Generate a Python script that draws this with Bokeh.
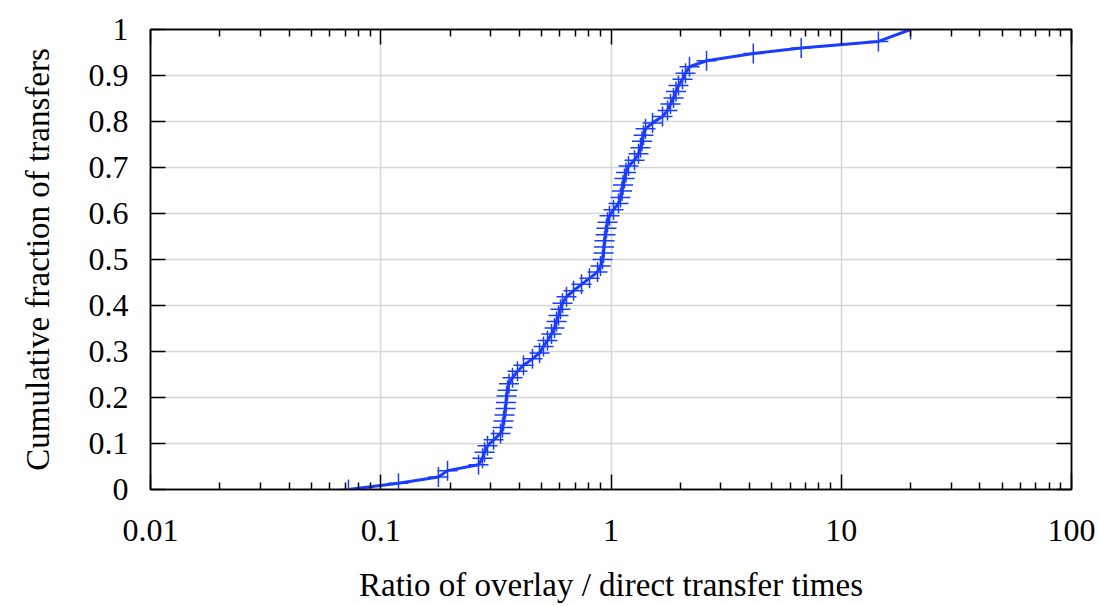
from bokeh.plotting import figure
from bokeh.models import FixedTicker, LogAxis, LinearAxis, Range1d
from bokeh.embed import file_html
from bokeh.resources import INLINE

# Sorted ratios of overlay to direct transfer time, with their cumulative fraction
ratio = [0.0724, 0.1194, 0.178, 0.195, 0.2658, 0.2767, 0.2823, 0.2909, 0.309, 0.3313,
         0.338, 0.3413, 0.3448, 0.3483, 0.35, 0.3518, 0.3553, 0.3606, 0.3734, 0.3925,
         0.4169, 0.456, 0.4893, 0.5092, 0.53, 0.5516, 0.5684, 0.5799, 0.5916, 0.6035,
         0.6157, 0.6408, 0.6873, 0.7446, 0.8066, 0.8738, 0.9003, 0.9186, 0.9279, 0.9325,
         0.9372, 0.9465, 0.956, 0.9656, 0.985, 1.0254, 1.0779, 1.0997, 1.1163, 1.1275,
         1.1446, 1.1621, 1.1914, 1.2647, 1.3164, 1.343, 1.3633, 1.384, 1.412, 1.5144,
         1.674, 1.7597, 1.8132, 1.868, 1.9155, 1.964, 2.044, 2.106, 2.192, 2.6,
         4.15, 6.7, 14.5, 20.0]
fraction = [0.0, 0.0135, 0.027, 0.041, 0.054, 0.068, 0.081, 0.095, 0.108, 0.122,
            0.135, 0.149, 0.162, 0.176, 0.189, 0.203, 0.216, 0.23, 0.243, 0.257,
            0.27, 0.284, 0.297, 0.311, 0.324, 0.338, 0.351, 0.365, 0.378, 0.392,
            0.405, 0.419, 0.432, 0.446, 0.459, 0.473, 0.486, 0.5, 0.514, 0.527,
            0.541, 0.554, 0.568, 0.581, 0.595, 0.608, 0.622, 0.635, 0.649, 0.662,
            0.676, 0.689, 0.703, 0.716, 0.73, 0.743, 0.757, 0.77, 0.784, 0.797,
            0.811, 0.824, 0.838, 0.851, 0.865, 0.878, 0.892, 0.905, 0.919, 0.932,
            0.948, 0.96, 0.974, 1.0]

x_ticks = [0.01, 0.1, 1, 10, 100]
x_tick_labels = ["0.01", "0.1", "1", "10", "100"]
x_minor = [0.02, 0.03, 0.04, 0.05, 0.06, 0.07, 0.08, 0.09,
           0.2, 0.3, 0.4, 0.5, 0.6, 0.7, 0.8, 0.9,
           2, 3, 4, 5, 6, 7, 8, 9,
           20, 30, 40, 50, 60, 70, 80, 90]
y_ticks = [0, 0.1, 0.2, 0.3, 0.4, 0.5, 0.6, 0.7, 0.8, 0.9, 1]
y_tick_labels = ["0", "0.1", "0.2", "0.3", "0.4", "0.5", "0.6", "0.7", "0.8", "0.9", "1"]

FONT = "Liberation Serif"
BLUE = "#1a3cff"

p = figure(width=1099, height=606, x_axis_type="log",
           x_range=Range1d(0.01, 100), y_range=Range1d(0, 1),
           output_backend="svg", toolbar_location=None,
           min_border_left=150, min_border_right=28,
           min_border_top=29, min_border_bottom=117)
p.outline_line_color = "black"
p.outline_line_width = 1.5


def style_axis(ax, ticks, labels, minor, show_labels):
    ax.ticker = FixedTicker(ticks=ticks, minor_ticks=minor)
    ax.major_label_overrides = dict(zip(ticks, labels))
    ax.axis_line_color = "black"
    ax.axis_line_width = 1.5
    ax.major_tick_line_color = "black"
    ax.major_tick_line_width = 1.5
    ax.minor_tick_line_color = "black" if minor else None
    ax.minor_tick_line_width = 1.5
    ax.major_tick_in = 15
    ax.major_tick_out = 0
    ax.minor_tick_in = 7
    ax.minor_tick_out = 0
    ax.major_label_text_font = FONT
    ax.major_label_text_font_size = "32px"
    ax.major_label_text_color = "black" if show_labels else None
    ax.major_label_standoff = 22
    ax.axis_label_text_font = FONT
    ax.axis_label_text_font_size = "33px"
    ax.axis_label_text_font_style = "normal"
    ax.axis_label_text_color = "black"


style_axis(p.xaxis[0], x_ticks, x_tick_labels, x_minor, True)
style_axis(p.yaxis[0], y_ticks, y_tick_labels, [], True)
p.xaxis[0].major_label_standoff = 30
p.xaxis[0].axis_label = "Ratio of overlay / direct transfer times"
p.xaxis[0].axis_label_standoff = 23
p.yaxis[0].axis_label = "Cumulative fraction of transfers"
p.yaxis[0].axis_label_standoff = 30

top = LogAxis()
style_axis(top, x_ticks, x_tick_labels, x_minor, False)
p.add_layout(top, "above")
right = LinearAxis()
style_axis(right, y_ticks, y_tick_labels, [], False)
p.add_layout(right, "right")
top.major_label_text_font_size = "0px"
right.major_label_text_font_size = "0px"
top.major_label_standoff = 0
right.major_label_standoff = 0

p.xgrid.ticker = FixedTicker(ticks=x_ticks)
p.ygrid.ticker = FixedTicker(ticks=y_ticks)
for g in (p.xgrid[0], p.ygrid[0]):
    g.grid_line_color = "#d6d6d6"
    g.grid_line_width = 1.5

p.line(ratio, fraction, line_color=BLUE, line_width=3)
p.scatter(ratio, fraction, marker="cross", size=20, line_color=BLUE, line_width=1.5)

open("out.html", "w").write(file_html(p, INLINE))
